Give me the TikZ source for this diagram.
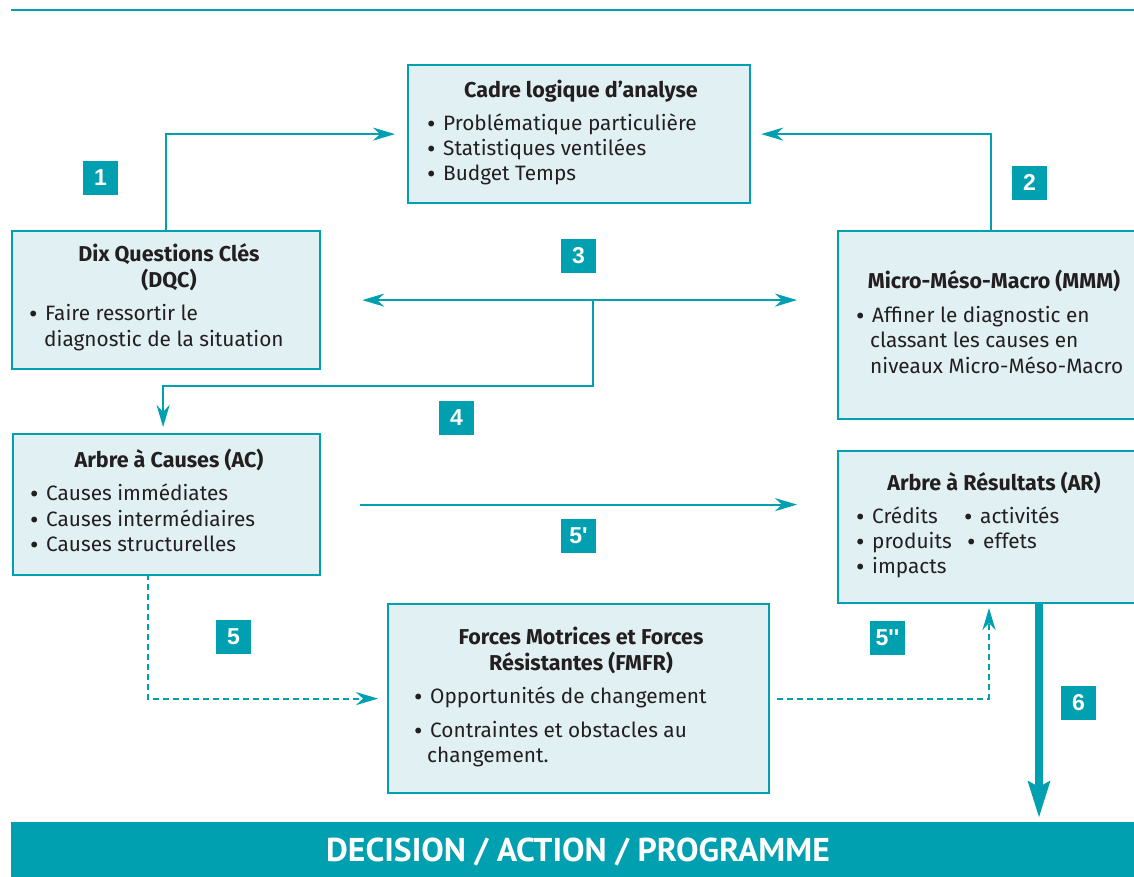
\documentclass[tikz,border=0pt]{standalone}
\usepackage{fontspec}
\setmainfont{Fira Sans}
\newfontfamily\barfont{PT Sans}
\newfontfamily\numfont{Liberation Sans}[Ligatures=TeXOff]
\usetikzlibrary{arrows.meta}
\definecolor{teal0}{HTML}{00A0B0}
\definecolor{boxfill}{HTML}{E1F0F3}
\definecolor{ink}{HTML}{231F20}
\newcommand\bul{\makebox[16.5pt][l]{\barfont •}}
\tikzset{
  box/.style={draw=teal0, line width=2.2pt, fill=boxfill, rectangle, anchor=north west, inner sep=0pt},
  tag/.style={fill=teal0, text=white, minimum width=35pt, minimum height=34pt, inner sep=0pt,
    font=\numfont\bfseries\fontsize{23}{23}\selectfont},
  ttl/.style={font=\bfseries\fontsize{21.5}{26}\selectfont, text=ink, anchor=base, inner sep=0pt},
  txt/.style={font=\fontsize{20.8}{25}\selectfont, text=ink, anchor=base west, inner sep=0pt},
  tipthin/.tip={Stealth[length=22pt,width=13pt,inset=7pt]},
  conn/.style={draw=teal0, line width=2.2pt, -tipthin},
  dconn/.style={conn, dash pattern=on 6pt off 4pt},
  bigconn/.style={draw=teal0, line width=8pt, -{Stealth[length=36pt,width=21pt,inset=5pt]}},
}
\begin{document}
\begin{tikzpicture}[x=1pt,y=-1pt]
\clip (0,0) rectangle (1134,876);
\fill[white] (0,0) rectangle (1134,876);
% top rule
\coordinate (ruleL) at (11,10);
\coordinate (ruleR) at (1134,10);
\draw[teal0, line width=1.6pt] (ruleL) -- (ruleR);

% boxes
\node[box, minimum width=342pt, minimum height=138pt] (cadre) at (407,64) {};
\node[box, minimum width=308pt, minimum height=138pt] (dqc) at (11,230) {};
\node[box, minimum width=306pt, minimum height=188pt] (mmm) at (837,230) {};
\node[box, minimum width=307pt, minimum height=141pt] (ac) at (12,433) {};
\node[box, minimum width=306pt, minimum height=152pt] (ar) at (837,450) {};
\node[box, minimum width=381pt, minimum height=189pt] (fmfr) at (387,603) {};
\node[fill=teal0, anchor=north west, minimum width=1130pt, minimum height=60pt, inner sep=0pt] (bar) at (11,822) {};

% texts: cadre
\node[ttl] (cadreT) at (581,97) {Cadre logique d’analyse};
\node[txt] (cadre1) at (426.5,130) {\bul Problématique particulière};
\node[txt] (cadre2) at (426.5,155) {\bul Statistiques ventilées};
\node[txt] (cadre3) at (426.5,180) {\bul Budget Temps};
% dqc
\node[ttl] (dqcT1) at (169,261) {Dix Questions Clés};
\node[ttl] (dqcT2) at (169,287) {(DQC)};
\node[txt] (dqc1) at (28.5,320) {\bul Faire ressortir le};
\node[txt] (dqc2) at (44,346) {diagnostic de la situation};
% mmm
\node[ttl] (mmmT) at (994,288) {Micro-Méso-Macro (MMM)};
\node[txt] (mmm1) at (855.5,322) {\bul Affiner le diagnostic en};
\node[txt] (mmm2) at (870,347) {classant les causes en};
\node[txt] (mmm3) at (870,373) {niveaux Micro-Méso-Macro};
% ac
\node[ttl] (acT) at (169,467) {Arbre à Causes (AC)};
\node[txt] (ac1) at (29.5,500) {\bul Causes immédiates};
\node[txt] (ac2) at (29.5,526) {\bul Causes intermédiaires};
\node[txt] (ac3) at (29.5,551) {\bul Causes structurelles};
% ar
\node[ttl] (arT) at (994,490) {Arbre à Résultats (AR)};
\node[txt] (ar1) at (855.5,523) {\bul Crédits};
\node[txt] (ar2) at (963.5,523) {\bul activités};
\node[txt] (ar3) at (855.5,548) {\bul produits};
\node[txt] (ar4) at (966.5,548) {\bul effets};
\node[txt] (ar5) at (855.5,573) {\bul impacts};
% fmfr
\node[ttl] (fmT1) at (581,644) {Forces Motrices et Forces};
\node[ttl] (fmT2) at (581,670) {Résistantes (FMFR)};
\node[txt] (fm1) at (413.5,703) {\bul Opportunités de changement};
\node[txt] (fm2) at (413.5,737) {\bul Contraintes et obstacles au};
\node[txt] (fm3) at (427,762) {changement.};
% bar text
\node[text=white, anchor=base, inner sep=0pt, font=\barfont\bfseries\fontsize{33}{33}\selectfont] (barT) at (578,861)
  {\scalebox{1.02}[1]{DECISION / ACTION / PROGRAMME}};

% tags
\node[tag] (t1) at (100.5,177.5) {1};
\node[tag] (t2) at (1029.5,182.5) {2};
\node[tag] (t3) at (578.5,256) {3};
\node[tag] (t4) at (456.5,417.5) {4};
\node[tag] (t5p) at (578.5,536) {5'};
\node[tag] (t5) at (233.5,636.5) {5};
\node[tag] (t5pp) at (887.5,637.5) {5''};
\node[tag] (t6) at (1078.5,702.5) {6};

% connectors
\draw[conn] (dqc.north) |- ([xshift=-12pt]cadre.west);
\draw[conn] (mmm.north) |- ([xshift=10pt]cadre.east);
\draw[conn, tipthin-tipthin] ([xshift=41pt]dqc.east) -- ([xshift=-40pt]mmm.west |- dqc.east);
\coordinate (j3) at (593,299);
\coordinate (j4) at (593,386);
\draw[conn] (j3) -- (j4) -| ([xshift=-3.5pt,yshift=6pt]ac.north);
\draw[conn] ([xshift=39pt]ac.east) -- ([xshift=-40pt]ar.west |- ac.east);
\coordinate (d5) at (148,574);
\draw[dconn] (d5) |- ([xshift=-9pt]fmfr.west);
\coordinate (d5pp) at (989,602);
\draw[dconn] ([xshift=7pt]fmfr.east) -| ([yshift=-6pt]d5pp);
\coordinate (d6) at (1039,602);
\draw[bigconn] (d6) -- ([yshift=4pt]bar.north -| d6);
\end{tikzpicture}
\end{document}
